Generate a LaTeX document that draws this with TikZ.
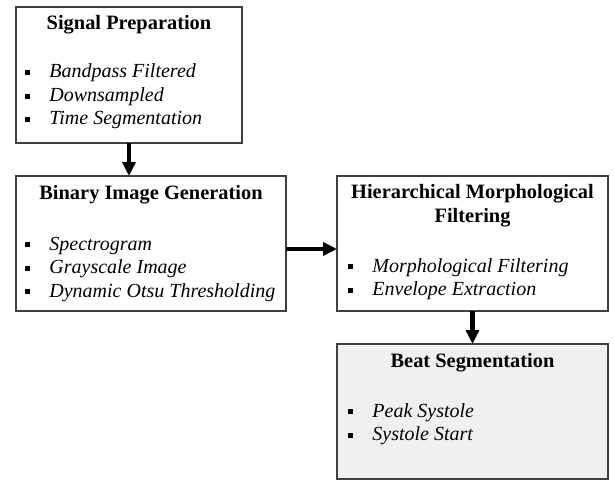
\documentclass[tikz,border=0pt]{standalone}
\usepackage{fontspec}
\setmainfont{Liberation Serif}
\usetikzlibrary{arrows.meta, positioning}

% square bullet followed by an italic entry
\newcommand{\itm}[1]{\makebox[12pt][l]{\rule[1.4pt]{2.4pt}{2.4pt}}\textit{#1}}

\begin{document}
\begin{tikzpicture}[
    block/.style={rectangle, draw=black!75, line width=0.6pt, minimum width=135pt, minimum height=67.5pt, inner sep=0pt, outer sep=0pt},
    title/.style={font=\fontsize{10.2}{12}\selectfont\bfseries, align=center, inner sep=0pt, anchor=base},
    items/.style={font=\fontsize{10}{11.75}\selectfont, align=left, inner sep=0pt, anchor=base west},
    arrow/.style={-{Triangle[length=7pt, width=6.5pt]}, line width=2.2pt}
]
\useasboundingbox (0,0) rectangle (307.5pt,-240.5pt);

% Stages
\node[block, minimum width=113pt, minimum height=68pt, anchor=north west] (prep) at (8pt,-3.5pt) {};
\node[block, below=16.5pt of prep.south west, anchor=north west] (binary) {};
\node[block, minimum width=135.5pt, right=25.5pt of binary] (morph) {};
\node[block, minimum width=135.5pt, fill=black!6, below=16.5pt of morph] (beat) {};

% Stage contents (base = baseline of the last line)
\node[title] (prept) at ([yshift=-11.5pt]prep.north) {Signal Preparation};
\node[items] (prepi) at ([xshift=4.5pt, yshift=-59pt]prep.north west)
    {\itm{Bandpass Filtered}\\\itm{Downsampled}\\\itm{Time Segmentation}};

\node[title] (binaryt) at ([yshift=-11.5pt]binary.north) {Binary Image Generation};
\node[items] (binaryi) at ([xshift=4.5pt, yshift=-60.5pt]binary.north west)
    {\itm{Spectrogram}\\\itm{Grayscale Image}\\\itm{Dynamic Otsu Thresholding}};

\node[title] (morpht) at ([yshift=-23pt]morph.north) {Hierarchical Morphological\\Filtering};
\node[items] (morphi) at ([xshift=5.5pt, yshift=-59.75pt]morph.north west)
    {\itm{Morphological Filtering}\\\itm{Envelope Extraction}};

\node[title] (beatt) at ([yshift=-11.5pt]beat.north) {Beat Segmentation};
\node[items] (beati) at ([xshift=5.5pt, yshift=-48.25pt]beat.north west)
    {\itm{Peak Systole}\\\itm{Systole Start}};

% Flow
\draw[arrow] (prep.south) -- (prep.south |- binary.north);
\draw[arrow] ([yshift=-2.75pt]binary.east) -- ([yshift=-2.75pt]morph.west);
\draw[arrow] (morph) -- (beat);
\end{tikzpicture}
\end{document}
